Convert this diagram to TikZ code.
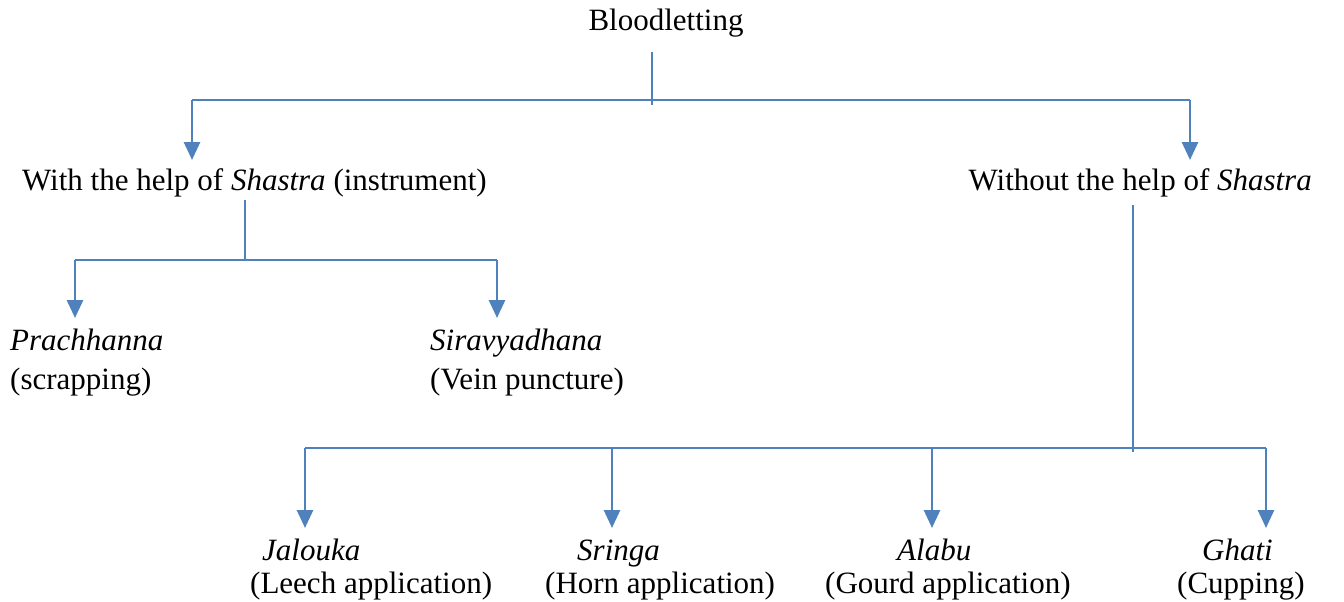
\documentclass[tikz,border=0pt]{standalone}
\usepackage{fontspec}
\setmainfont{Liberation Serif}
\usetikzlibrary{arrows.meta, positioning}
\definecolor{linkblue}{RGB}{79,129,189}

\begin{document}
\begin{tikzpicture}[x=1pt, y=-1pt,
    lbl/.style={inner sep=0pt, font=\fontsize{31}{36}\selectfont},
    bar link/.style={draw=linkblue, line width=1.2pt},
    drop link/.style={draw=linkblue, line width=2.8pt, -{Triangle[width=16pt,length=18pt]}}]

\useasboundingbox (0,0) rectangle (1344,602);

% Labels
\node[lbl, anchor=base] (root) at (666,31) {Bloodletting};
\node[lbl, anchor=base west] (with) at (22,190) {With the help of \textit{Shastra} (instrument)};
\node[lbl, anchor=base east] (without) at (1312,190) {Without the help of \textit{Shastra}};

\node[lbl, anchor=base west] (prach) at (10,350) {\textit{Prachhanna}};
\node[lbl, anchor=base west] (prachnote) at (10,389) {(scrapping)};
\node[lbl, anchor=base west] (sira) at (430,350) {\textit{Siravyadhana}};
\node[lbl, anchor=base west] (siranote) at (430,389) {(Vein puncture)};

\node[lbl, anchor=base west] (jal) at (262,560) {\textit{Jalouka}};
\node[lbl, anchor=base west] (jalnote) at (250,593) {(Leech application)};
\node[lbl, anchor=base west] (sri) at (577,560) {\textit{Sringa}};
\node[lbl, anchor=base west] (srinote) at (545,593) {(Horn application)};
\node[lbl, anchor=base west] (ala) at (897,560) {\textit{Alabu}};
\node[lbl, anchor=base west] (alanote) at (825,593) {(Gourd application)};
\node[lbl, anchor=base west] (gha) at (1202,560) {\textit{Ghati}};
\node[lbl, anchor=base west] (ghanote) at (1177,593) {(Cupping)};

% Junctions
\coordinate (roottop) at (652,52);
\coordinate (rootbar) at (652,105);
\coordinate (barL) at (192,100);
\coordinate (barR) at (1190,100);
\coordinate (withtop) at (245,200);
\coordinate (withbar) at (245,260);
\coordinate (subL) at (75,260);
\coordinate (subR) at (497,260);
\coordinate (wotop) at (1133,205);
\coordinate (wobar) at (1133,452);
\coordinate (lowL) at (305,448);
\coordinate (lowR) at (1266,448);
\coordinate (lowB) at (612,448);
\coordinate (lowC) at (932,448);

% Top level
\draw[bar link] (roottop) -- (rootbar);
\draw[bar link] (barL) -- (barR);
\draw[drop link] (barL) -- (barL |- 0,160);
\draw[drop link] (barR) -- (barR |- 0,160);

% With Shastra
\draw[bar link] (withtop) -- (withbar);
\draw[bar link] (subL) -- (subR);
\draw[drop link] (subL) -- (subL |- 0,318);
\draw[drop link] (subR) -- (subR |- 0,318);

% Without Shastra
\draw[bar link] (wotop) -- (wobar);
\draw[bar link] (lowL) -- (lowR);
\foreach \p in {lowL, lowB, lowC, lowR}
    \draw[drop link] (\p) -- (\p |- 0,528);

\end{tikzpicture}
\end{document}
